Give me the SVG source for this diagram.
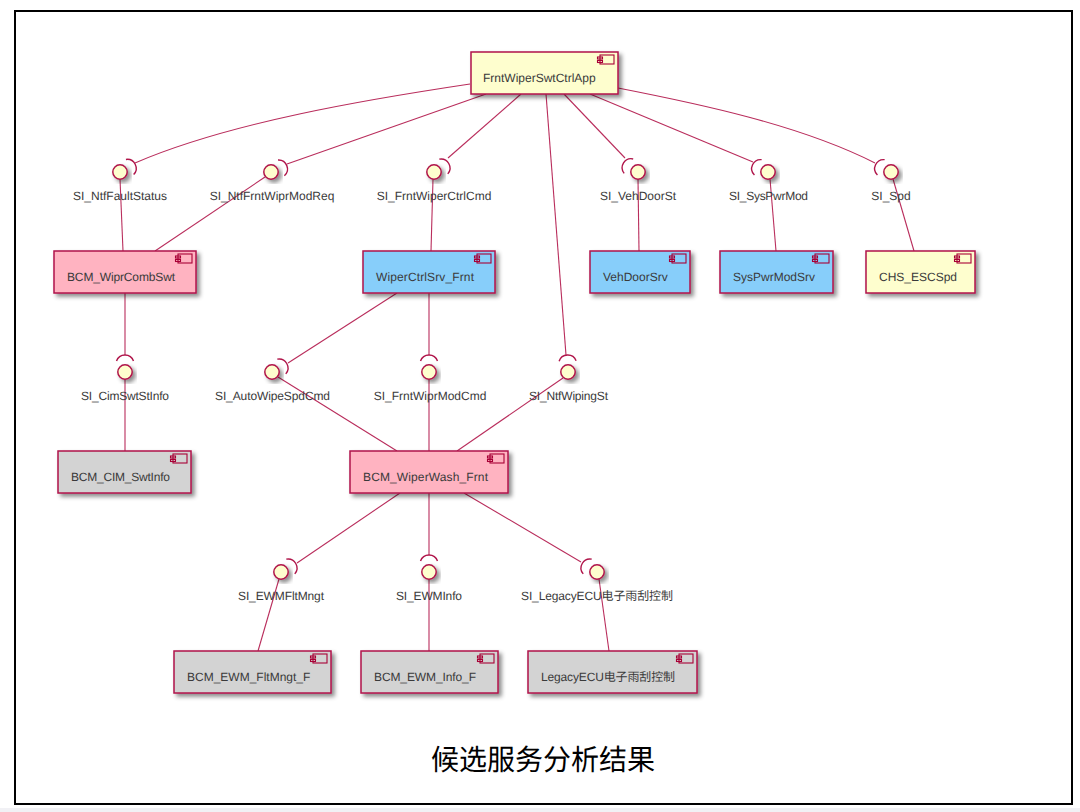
<svg xmlns="http://www.w3.org/2000/svg" xmlns:xlink="http://www.w3.org/1999/xlink" width="1080" height="812" viewBox="0 0 1080 812">
<style>
text{font-family:"Liberation Sans","Noto Sans CJK SC",sans-serif;font-size:12px;fill:#3a3a3a;text-rendering:geometricPrecision}
.lb{text-anchor:middle}
.box{stroke:#B0154A;stroke-width:1.5;filter:url(#sh)}
.y{fill:#FEFECE}.p{fill:#FFB3C1}.b{fill:#87CEFA}.g{fill:#D3D3D3}
.c{fill:none;stroke:#B92D5C;stroke-width:1.1}
.s{fill:none;stroke:#B0154A;stroke-width:1.4}
.ci{fill:#FEFECE;stroke:#B0154A;stroke-width:1.5;filter:url(#sh)}
.t{font-size:29px;fill:#000;text-anchor:middle;font-family:"Noto Sans CJK SC",sans-serif}
</style>
<defs>
<filter id="sh" x="-20%" y="-20%" width="150%" height="150%"><feDropShadow dx="3" dy="3" stdDeviation="2" flood-color="#000" flood-opacity="0.45"/></filter>
<g id="ic" fill="none" stroke="#A80036" stroke-width="1.1"><rect x="-18" y="3" width="14" height="9" fill="none"/><rect x="-20.5" y="5" width="5" height="2"/><rect x="-20.5" y="8.5" width="5" height="2"/></g>
<path id="sk" class="s" d="M11,-8.5 A9,9 0 0 1 11,8.5"/>
</defs>
<rect width="1080" height="812" fill="#fff"/>
<rect y="808" width="1080" height="4" fill="#F1F1F5"/>
<rect x="15" y="11" width="1057" height="793" fill="#fff" stroke="#000" stroke-width="2"/>

<g id="connectors">
<path class="c" d="M470,84 C370,99 230,122 135,163"/>
<path class="c" d="M486,94 L287,164"/>
<path class="c" d="M521,94 L448,158"/>
<path class="c" d="M546,94 L566,355"/>
<path class="c" d="M564,94 L625,158"/>
<path class="c" d="M590,94 L753,162"/>
<path class="c" d="M618,88 C700,104 800,125 875,163"/>
<path class="c" d="M120,179 L123,251"/>
<path class="c" d="M265,177 L155,251"/>
<path class="c" d="M433,179 L431,251"/>
<path class="c" d="M638,179 L639,251"/>
<path class="c" d="M770,179 L776,251"/>
<path class="c" d="M893,179 L914,251"/>
<path class="c" d="M125,293 L125,355"/>
<path class="c" d="M397,293 L288,363"/>
<path class="c" d="M429,293 L429,355"/>
<path class="c" d="M125,379 L125,451"/>
<path class="c" d="M278,377 L397,451"/>
<path class="c" d="M429,379 L429,451"/>
<path class="c" d="M563,378 L457,451"/>
<path class="c" d="M400,493 L297,563"/>
<path class="c" d="M429,493 L429,555"/>
<path class="c" d="M464,493 L581,562"/>
<path class="c" d="M279,579 L258,651"/>
<path class="c" d="M429,579 L429,651"/>
<path class="c" d="M599,579 L609,651"/>
</g>

<g id="n-app"><rect class="box y" x="471" y="52" width="147" height="42"/><use href="#ic" transform="translate(618,52)"/><text x="483" y="82">FrntWiperSwtCtrlApp</text></g>
<g id="n-comb"><rect class="box p" x="54" y="251" width="142" height="42"/><use href="#ic" transform="translate(196,251)"/><text x="67" y="281" textLength="108">BCM_WiprCombSwt</text></g>
<g id="n-ctrl"><rect class="box b" x="363" y="251" width="132" height="42"/><use href="#ic" transform="translate(495,251)"/><text x="376" y="281" textLength="98">WiperCtrlSrv_Frnt</text></g>
<g id="n-door"><rect class="box b" x="590" y="251" width="100" height="42"/><use href="#ic" transform="translate(690,251)"/><text x="603" y="281">VehDoorSrv</text></g>
<g id="n-pwr"><rect class="box b" x="720" y="251" width="113" height="42"/><use href="#ic" transform="translate(833,251)"/><text x="733" y="281">SysPwrModSrv</text></g>
<g id="n-esc"><rect class="box y" x="866" y="251" width="109" height="42"/><use href="#ic" transform="translate(975,251)"/><text x="879" y="281">CHS_ESCSpd</text></g>
<g id="n-cim"><rect class="box g" x="58" y="451" width="133" height="42"/><use href="#ic" transform="translate(191,451)"/><text x="71" y="481" textLength="99">BCM_CIM_SwtInfo</text></g>
<g id="n-wash"><rect class="box p" x="350" y="451" width="158" height="42"/><use href="#ic" transform="translate(508,451)"/><text x="363" y="481" textLength="125">BCM_WiperWash_Frnt</text></g>
<g id="n-flt"><rect class="box g" x="174" y="651" width="157" height="42"/><use href="#ic" transform="translate(331,651)"/><text x="187" y="681">BCM_EWM_FltMngt_F</text></g>
<g id="n-info"><rect class="box g" x="361" y="651" width="137" height="42"/><use href="#ic" transform="translate(498,651)"/><text x="374" y="681" textLength="102">BCM_EWM_Info_F</text></g>
<g id="n-legacy"><rect class="box g" x="528" y="651" width="169" height="42"/><use href="#ic" transform="translate(697,651)"/><text x="541" y="681" textLength="134">LegacyECU电子雨刮控制</text></g>

<g id="i-fault"><use href="#sk" transform="translate(120,172) rotate(-27)"/><circle class="ci" cx="120" cy="172" r="7.2"/><text class="lb" x="120" y="200">SI_NtfFaultStatus</text></g>
<g id="i-modreq"><use href="#sk" transform="translate(271,172) rotate(-22)"/><circle class="ci" cx="271" cy="172" r="7.2"/><text class="lb" x="272" y="200">SI_NtfFrntWiprModReq</text></g>
<g id="i-ctrlcmd"><use href="#sk" transform="translate(434,172) rotate(-30)"/><circle class="ci" cx="434" cy="172" r="7.2"/><text class="lb" x="434" y="200">SI_FrntWiperCtrlCmd</text></g>
<g id="i-door"><use href="#sk" transform="translate(638,172) rotate(212)"/><circle class="ci" cx="638" cy="172" r="7.2"/><text class="lb" x="638" y="200">SI_VehDoorSt</text></g>
<g id="i-pwr"><use href="#sk" transform="translate(768,172) rotate(205)"/><circle class="ci" cx="768" cy="172" r="7.2"/><text class="lb" x="768.500" y="200" textLength="79">SI_SysPwrMod</text></g>
<g id="i-spd"><use href="#sk" transform="translate(891,172) rotate(205)"/><circle class="ci" cx="891" cy="172" r="7.2"/><text class="lb" x="891" y="200">SI_Spd</text></g>
<g id="i-cim"><use href="#sk" transform="translate(125,372) rotate(-90)"/><circle class="ci" cx="125" cy="372" r="7.2"/><text class="lb" x="125" y="400" textLength="88">SI_CimSwtStInfo</text></g>
<g id="i-auto"><use href="#sk" transform="translate(272,372) rotate(-30)"/><circle class="ci" cx="272" cy="372" r="7.2"/><text class="lb" x="272.500" y="400" textLength="115">SI_AutoWipeSpdCmd</text></g>
<g id="i-modcmd"><use href="#sk" transform="translate(429,372) rotate(-90)"/><circle class="ci" cx="429" cy="372" r="7.2"/><text class="lb" x="430" y="400">SI_FrntWiprModCmd</text></g>
<g id="i-wiping"><use href="#sk" transform="translate(568,372) rotate(-92)"/><circle class="ci" cx="568" cy="372" r="7.2"/><text class="lb" x="568.500" y="400" textLength="79">SI_NtfWipingSt</text></g>
<g id="i-flt"><use href="#sk" transform="translate(281,572) rotate(-30)"/><circle class="ci" cx="281" cy="572" r="7.2"/><text class="lb" x="281" y="600" textLength="86">SI_EWMFltMngt</text></g>
<g id="i-info"><use href="#sk" transform="translate(429,572) rotate(-90)"/><circle class="ci" cx="429" cy="572" r="7.2"/><text class="lb" x="429" y="600" textLength="66">SI_EWMInfo</text></g>
<g id="i-legacy"><use href="#sk" transform="translate(597,572) rotate(210)"/><circle class="ci" cx="597" cy="572" r="7.2"/><text class="lb" x="597" y="600" textLength="152">SI_LegacyECU电子雨刮控制</text></g>

<text class="t" x="543" y="770" textLength="224" lengthAdjust="spacingAndGlyphs">候选服务分析结果</text>
</svg>
